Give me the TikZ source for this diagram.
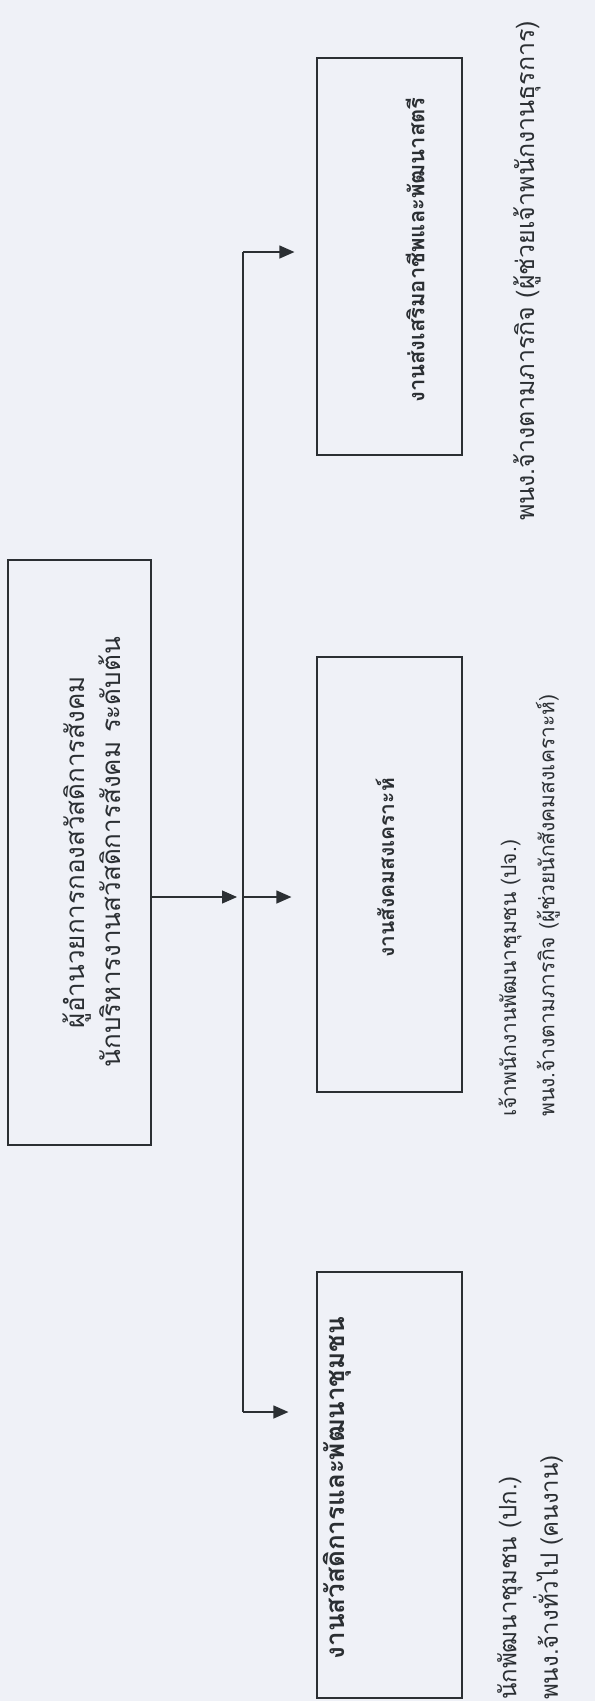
\documentclass[tikz,border=0pt]{standalone}
\usepackage{fontspec}
\newfontfamily\thaifont[Script=Thai]{Loma}
\usetikzlibrary{arrows.meta}
\definecolor{paper}{HTML}{EFF1F7}
\definecolor{ink}{HTML}{2B2F33}
\tikzset{
  unitbox/.style={draw=ink, line width=1.2pt, rectangle, inner sep=0pt},
  ulabel/.style={rotate=90, text=ink, inner sep=0pt, font=\thaifont\fontsize{21}{30}\selectfont},
  utitle/.style={ulabel, font=\thaifont\bfseries\fontsize{22}{30}\selectfont},
  link/.style={ink, line width=1.2pt},
  linkarrow/.style={link, -{Triangle[length=15pt,width=13pt]}},
}

\begin{document}
\begin{tikzpicture}[x=1pt,y=-1pt]
  \fill[paper] (0,0) rectangle (595,1701);
  \useasboundingbox (0,0) rectangle (595,1701);
  \clip (0,0) rectangle (595,1701);
  % boxes
  \node[unitbox, minimum width=143pt, minimum height=585pt] (dir) at (79.5,852.5) {};
  \node[unitbox, minimum width=145pt, minimum height=397pt] (occ) at (389.5,256.5) {};
  \node[unitbox, minimum width=145pt, minimum height=435pt] (soc) at (389.5,874.5) {};
  \node[unitbox, minimum width=145pt, minimum height=426pt] (wel) at (389.5,1485) {};
  % box texts
  \node[ulabel, align=center, font=\thaifont\fontsize{26}{36}\selectfont] (dir-t) at (92,852)
    {ผู้อำนวยการกองสวัสดิการสังคม\\นักบริหารงานสวัสดิการสังคม ระดับต้น};
  \node[utitle] (occ-t) at (415,250) {งานส่งเสริมอาชีพและพัฒนาสตรี};
  \node[utitle, font=\thaifont\bfseries\fontsize{21}{30}\selectfont] (soc-t) at (385,868) {งานสังคมสงเคราะห์};
  \node[utitle, font=\thaifont\bfseries\fontsize{26}{30}\selectfont] (wel-t) at (337,1488) {งานสวัสดิการและพัฒนาชุมชน};
  % staff under each unit
  \node[ulabel, anchor=west, font=\thaifont\fontsize{25}{30}\selectfont] (occ-s1) at (527,521)
    {พนง.จ้างตามภารกิจ (ผู้ช่วยเจ้าพนักงานธุรการ)};
  \node[ulabel, anchor=west] (soc-s1) at (510,1117) {เจ้าพนักงานพัฒนาชุมชน (ปจ.)};
  \node[ulabel, anchor=west] (soc-s2) at (548,1117) {พนง.จ้างตามภารกิจ (ผู้ช่วยนักสังคมสงเคราะห์)};
  \node[ulabel, anchor=west, font=\thaifont\fontsize{24}{30}\selectfont] (wel-s1) at (510,1700) {นักพัฒนาชุมชน (ปก.)};
  \node[ulabel, anchor=west, font=\thaifont\fontsize{24}{30}\selectfont] (wel-s2) at (548,1700) {พนง.จ้างทั่วไป (คนงาน)};
  % connectors
  \coordinate (trunk-top) at (243,252);
  \coordinate (hub) at (243,897);
  \coordinate (trunk-bot) at (243,1412);
  \draw[link] (trunk-top) -- (trunk-bot);
  \draw[linkarrow, shorten >=6pt] (dir.east |- hub) -- (hub);
  \draw[linkarrow, shorten >=22pt] (trunk-top) -- (trunk-top -| occ.west);
  \draw[linkarrow, shorten >=25pt] (hub) -- (hub -| soc.west);
  \draw[linkarrow, shorten >=28pt] (trunk-bot) -- (trunk-bot -| wel.west);
\end{tikzpicture}
\end{document}
